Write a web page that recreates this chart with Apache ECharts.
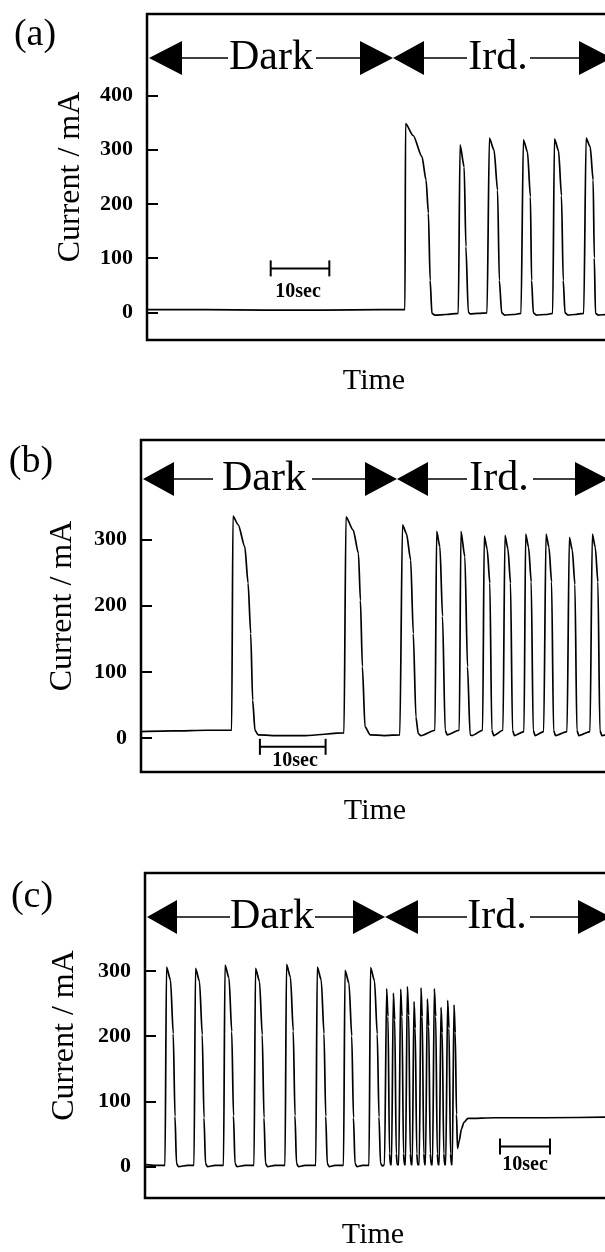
<!DOCTYPE html>
<html>
<head>
<meta charset="utf-8">
<script src="https://cdn.jsdelivr.net/npm/echarts@6/dist/echarts.min.js"></script>
<style>
  html, body { margin: 0; padding: 0; background: #fff; }
  #chart { width: 605px; height: 1252px; }
</style>
</head>
<body>
<div id="chart"></div>
<script>
// (a) time in sec, current in mA
const timeA = [0, 10, 20, 30, 40, 44.0, 44.1, 45.4, 46.9, 47.6, 48.0, 48.3, 48.6, 49.1, 51, 53.1,
  53.4, 54.1, 54.4, 54.8, 55.1, 56.5, 58.0, 58.4, 59.2, 59.8, 60.1, 60.5, 61.0, 62.5, 63.8,
  64.2, 64.9, 65.4, 65.6, 65.9, 66.4, 68, 69.2, 69.5, 70.2, 70.7, 71.0, 71.3, 71.8, 73, 74.5,
  74.9, 75.6, 76.1, 76.3, 76.5, 77.0, 78.5, 80]
const currentA = [5, 5, 4, 4, 5, 5, 348, 326, 287, 244, 183, 59, -2, -5, -4, -2,
  309, 268, 121, 1, -3, -2, -1, 321, 299, 225, 59, -1, -5, -4, -2,
  318, 296, 213, 59, -1, -5, -4, -2, 320, 298, 215, 59, -1, -5, -4, -2,
  321, 305, 244, 100, -2, -5, -4, -3]

// (b)
const timeB = [0, 5, 10, 13.8, 14.0, 14.8, 15.8, 16.3, 16.7, 17.0, 17.35, 17.85, 20, 25, 30.9,
  31.2, 32.3, 33.1, 33.4, 33.7, 34.1, 34.9, 37, 39.4, 39.8, 40.4, 41.05, 41.45, 41.85, 42.2, 42.6,
  44.75, 45.0, 45.5, 45.9, 46.3, 46.6, 48.45, 48.7, 49.3, 49.7, 50.1, 50.4, 52.0,
  52.25, 52.7, 53.1, 53.4, 53.7, 55.1, 55.4, 55.85, 56.25, 56.55, 56.85, 58.3,
  58.55, 59.0, 59.4, 59.7, 60.0, 61.3, 61.65, 62.1, 62.5, 62.8, 63.1, 64.85,
  65.2, 65.65, 66.05, 66.35, 66.65, 68.35, 68.7, 69.15, 69.55, 69.85, 70.15, 72]
const currentB = [10, 11, 12, 12, 335, 322, 289, 234, 158, 57, 12, 5, 4, 4, 8,
  334, 314, 279, 208, 108, 17, 5, 4, 5, 322, 309, 269, 158, 32, 7, 4,
  12, 312, 289, 184, 12, 5, 12, 312, 274, 108, 5, 4, 12,
  305, 285, 234, 12, 4, 12, 306, 286, 234, 12, 4, 10,
  308, 288, 236, 12, 4, 10, 308, 288, 236, 12, 4, 10,
  303, 284, 232, 12, 4, 10, 308, 288, 236, 12, 4, 8]

// (c)
const timeC = [0, 2, 4.0,
  4.3, 5.1, 5.65, 6.0, 6.3, 6.7, 8.5, 9.8,
  10.1, 10.9, 11.45, 11.8, 12.1, 12.5, 14, 15.7,
  16.0, 16.8, 17.35, 17.7, 18.0, 18.4, 20, 21.8,
  22.1, 22.9, 23.45, 23.8, 24.1, 24.5, 26, 28.0,
  28.3, 29.1, 29.65, 30.0, 30.3, 30.7, 32, 34.15,
  34.45, 35.25, 35.8, 36.15, 36.45, 36.85, 38, 39.7,
  40.0, 40.8, 41.35, 41.7, 42.0, 42.4, 43.5, 44.8,
  45.1, 45.9, 46.45, 46.8, 47.1, 47.5, 47.9,
  48.33, 48.6, 48.9, 49.1, 49.3,
  49.67, 49.95, 50.25, 50.45, 50.75,
  51.13, 51.4, 51.7, 51.9, 52.1,
  52.47, 52.75, 53.05, 53.25, 53.45,
  53.8, 54.05, 54.35, 54.55, 54.85,
  55.2, 55.45, 55.75, 55.95, 56.1,
  56.47, 56.75, 57.05, 57.25, 57.5,
  57.87, 58.15, 58.45, 58.65, 58.85,
  59.2, 59.45, 59.75, 59.95, 60.15,
  60.53, 60.8, 61.1, 61.3, 61.45,
  61.8, 62.05, 62.3, 62.5, 62.8, 63.3, 63.8, 64.6, 70, 80, 94]
const currentC = [3, 2, 2,
  306, 286, 204, 77, 5, 0, 2, 2,
  304, 284, 202, 75, 5, 0, 2, 2,
  309, 289, 207, 78, 5, 0, 2, 2,
  304, 284, 202, 75, 5, 0, 2, 2,
  310, 290, 208, 78, 5, 0, 2, 2,
  306, 286, 204, 77, 5, 0, 2, 2,
  301, 281, 200, 75, 5, 0, 2, 2,
  305, 285, 203, 76, 5, 1, 3,
  273, 230, 20, 3, 3,
  266, 225, 20, 3, 3,
  272, 230, 20, 3, 3,
  276, 232, 20, 3, 3,
  253, 212, 20, 3, 3,
  274, 230, 20, 3, 3,
  257, 215, 20, 3, 3,
  273, 230, 20, 3, 3,
  244, 205, 20, 3, 3,
  255, 212, 20, 3, 3,
  248, 205, 80, 28, 38, 58, 68, 74, 75, 75, 76]

const yTicksA = [0, 100, 200, 300, 400]
const yTicksB = [0, 100, 200, 300]
const yTicksC = [0, 100, 200, 300]

// 10 sec scale bars: [start time, level]
const barA = [21.1, 81]
const barB = [18.1, -13]
const barC = [71, 31]

const serif = '"Liberation Serif", "DejaVu Serif", serif'

function zip (xs, ys) {
  return xs.map((x, i) => [x, ys[i]])
}

function gridOf (left, top, width, height) {
  // frame runs past the right edge of the page, as in the scan
  return {
    left, top, width, height,
    outerBoundsMode: 'none',
    show: true,
    borderColor: '#000',
    borderWidth: 2.5
  }
}

function yAxisOf (idx, min, max, ticks, gap) {
  return {
    type: 'value',
    gridIndex: idx,
    min: min,
    max: max,
    axisLine: { show: false },
    splitLine: { show: false },
    axisTick: {
      show: true,
      inside: true,
      length: 11,
      customValues: ticks,
      lineStyle: { color: '#000', width: 2 }
    },
    axisLabel: {
      customValues: ticks,
      color: '#000',
      fontFamily: serif,
      fontWeight: 'bold',
      fontSize: 22,
      margin: 14
    },
    name: 'Current / mA',
    nameLocation: 'middle',
    nameGap: gap,
    nameTextStyle: { fontFamily: serif, fontSize: 32, color: '#000' }
  }
}

function traceOf (idx, data) {
  return {
    type: 'line',
    xAxisIndex: idx,
    yAxisIndex: idx,
    data: data,
    symbol: 'none',
    smooth: 0.25,
    smoothMonotone: 'x',
    lineStyle: { color: '#000', width: 1.7 }
  }
}

function barOf (idx, bar) {
  return {
    type: 'line',
    xAxisIndex: idx,
    yAxisIndex: idx,
    data: [[bar[0], bar[1]], [bar[0] + 10, bar[1]]],
    symbol: 'rect',
    symbolSize: [2, 16],
    itemStyle: { color: '#000' },
    lineStyle: { color: '#000', width: 2 }
  }
}

function txt (x, y, text, font) {
  return {
    type: 'text',
    x: x,
    y: y,
    style: {
      text: text,
      font: font,
      fill: '#000',
      align: 'center',
      verticalAlign: 'middle',
      textAlign: 'center',
      textVerticalAlign: 'middle'
    }
  }
}

function tri (tip, base, y, h) {
  return {
    type: 'polygon',
    shape: { points: [[tip, y], [base, y - h], [base, y + h]] },
    style: { fill: '#000' }
  }
}

function seg (x1, x2, y) {
  return {
    type: 'line',
    shape: { x1: x1, y1: y, x2: x2, y2: y },
    style: { stroke: '#000', lineWidth: 1.6 }
  }
}

// ◀— Dark —▶◀— Ird. —▶
function arrowRow (y, p) {
  const h = 17
  return [
    tri(p[0], p[1], y, h),
    seg(p[1], p[2], y),
    txt(p[3], y, 'Dark', '42px ' + serif),
    seg(p[4], p[5], y),
    tri(p[6], p[5], y, h),
    tri(p[6], p[7], y, h),
    seg(p[7], p[8], y),
    txt(p[9], y, 'Ird.', '42px ' + serif),
    seg(p[10], p[11], y),
    tri(p[12], p[11], y, h)
  ]
}

const chart = echarts.init(document.getElementById('chart'))

const option = {
  animation: false,
  backgroundColor: '#fff',
  grid: [
    gridOf(147, 14, 469, 326),
    gridOf(141, 440, 473, 332),
    gridOf(145, 873, 470, 325)
  ],
  xAxis: [
    { type: 'value', gridIndex: 0, min: 0, max: 80, show: false },
    { type: 'value', gridIndex: 1, min: 0, max: 72, show: false },
    { type: 'value', gridIndex: 2, min: 0, max: 94, show: false }
  ],
  yAxis: [
    yAxisOf(0, -51, 550, yTicksA, 60),
    yAxisOf(1, -51, 450, yTicksB, 62),
    yAxisOf(2, -48, 450, yTicksC, 64)
  ],
  series: [
    traceOf(0, zip(timeA, currentA)),
    traceOf(1, zip(timeB, currentB)),
    traceOf(2, zip(timeC, currentC)),
    barOf(0, barA),
    barOf(1, barB),
    barOf(2, barC)
  ],
  graphic: [
    txt(35, 35, '(a)', '38px ' + serif),
    txt(31, 462, '(b)', '38px ' + serif),
    txt(32, 897, '(c)', '38px ' + serif),
    txt(374, 381, 'Time', '30px ' + serif),
    txt(375, 811, 'Time', '30px ' + serif),
    txt(373, 1235, 'Time', '30px ' + serif),
    txt(298, 292, '10sec', 'bold 20px ' + serif),
    txt(295, 761, '10sec', 'bold 20px ' + serif),
    txt(525, 1165, '10sec', 'bold 20px ' + serif)
  ]
    .concat(arrowRow(58, [149, 182, 228, 271, 316, 360, 393, 424, 467, 498, 530, 579, 612]))
    .concat(arrowRow(479, [143, 174, 213, 264, 312, 365, 397, 428, 467, 499, 533, 575, 608]))
    .concat(arrowRow(917, [147, 177, 230, 272, 315, 353, 385, 418, 467, 497, 530, 578, 611]))
}

chart.setOption(option)
</script>
</body>
</html>
